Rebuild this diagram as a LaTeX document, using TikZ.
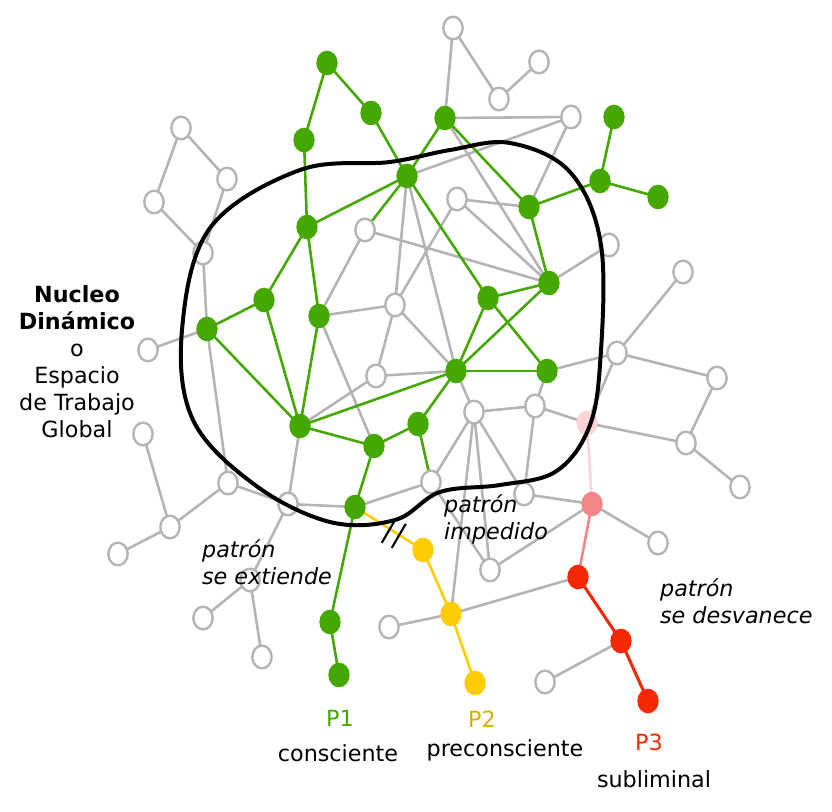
\documentclass[tikz,border=0pt]{standalone}
\usepackage{fontspec}
\setmainfont{DejaVu Sans}
\definecolor{verde}{HTML}{44A800}
\definecolor{gris}{HTML}{B4B4B4}
\definecolor{amarillo}{HTML}{FFCC00}
\definecolor{rojo}{HTML}{F52800}
\definecolor{rosa}{HTML}{F4868A}
\definecolor{rosaclaro}{HTML}{FBD5D5}
\tikzset{
  nodo/.style={ellipse,minimum width=.64cm,minimum height=.74cm,inner sep=0pt},
  gn/.style={nodo,draw=gris,line width=2pt,fill=white,minimum width=.58cm,minimum height=.68cm},
  vn/.style={nodo,fill=verde},
  an/.style={nodo,fill=amarillo},
  gl/.style={gris,line width=2.2pt},
  vl/.style={verde,line width=2.2pt},
  txt/.style={font=\fontsize{19}{23}\selectfont,align=center},
}
\usetikzlibrary{shapes.geometric,calc}
\begin{document}
\begin{tikzpicture}[x=0.03cm,y=-0.03cm]
\useasboundingbox (0,0) rectangle (832,812);
% nodos grises
\foreach \n/\x/\y in {g1/453/28,g2/539/62,g3/499/99,g4/571/117,g5/181/128,g6/227/179,
  g7/154/202,g8/203/253,g9/457/199,g10/365/230,g11/609/245,g12/683/272,g13/395/305,
  g14/148/350,g15/617/353,g16/376/376,g17/717/378,g18/474/412,g19/535/406,g20/143/434,
  g21/686/443,g22/228/483,g23/288/504,g24/431/482,g25/524/494,g26/740/487,g27/170/527,
  g28/118/554,g29/658/543,g30/490/570,g31/250/580,g32/203/618,g33/262/657,g34/389/627,
  g35/545/682}
  \coordinate (\n) at (\x,\y);
% nodos verdes
\foreach \n/\x/\y in {G1/327/63,G2/371/113,G3/304/140,G4/445/118,G5/614/117,G6/407/176,
  G7/600/181,G8/658/197,G9/529/207,G10/307/227,G11/549/283,G12/264/300,G13/488/298,
  G14/319/316,G15/207/329,G16/456/371,G17/547/371,G18/300/426,G19/418/424,G20/374/446,
  G21/355/507,G22/330/622,G23/339/675}
  \coordinate (\n) at (\x,\y);
\coordinate (Y1) at (423,550);
\coordinate (Y2) at (451,614);
\coordinate (Y3) at (475,683);
\coordinate (R0) at (587,423);
\coordinate (R1) at (592,504);
\coordinate (R2) at (578,577);
\coordinate (R3) at (621,641);
\coordinate (R4) at (648,701);
% conexiones grises
\foreach \a/\b in {g1/g3,g1/G4,g3/g2,G4/g4,g4/G6,g4/G9,G4/G11,g5/g7,g5/g6,g7/g8,g6/g8,
  g8/G15,G15/g14,G15/g22,g9/G9,g9/g13,g9/G11,G6/g13,G6/G16,g10/G11,g10/G14,g13/G14,
  g13/g16,g13/G16,g16/G16,g16/G18,G14/G20,G11/g11,G17/g15,G17/g19,g15/g17,g15/R0,
  g15/g12,G16/g18,g18/g19,g19/R0,R0/g21,g21/g17,g21/g26,g19/g25,g18/g24,g18/g30,g18/Y2,
  g18/g25,g24/g30,g25/R1,g30/R1,G21/g23,G21/g24,g23/g22,g23/G18,g23/g31,g22/g27,g27/g20,
  g27/g28,g31/g32,g31/g33,Y2/g34,Y2/R2,R1/g29,R3/g35}
  \draw[gl] (\a) -- (\b);
% conexiones verdes
\foreach \a/\b in {G1/G3,G1/G2,G2/G6,G3/G10,G6/G4,G6/G10,G6/G13,G10/G12,G10/G14,
  G12/G15,G12/G18,G15/G18,G14/G18,G18/G16,G18/G20,G20/G19,G19/G16,G16/G13,G16/G11,
  G16/G17,G13/G11,G13/G17,G4/G9,G9/G7,G7/G5,G7/G8,G9/G11,G20/G21,G21/G22,G22/G23,
  G6/g10,G19/g24}
  \draw[vl] (\a) -- (\b);
\draw[amarillo,line width=2.2pt] (G21) -- (Y1) -- (Y2) -- (Y3);
\draw[rosaclaro,line width=2.2pt] (R0) -- (R1);
\draw[rosa,line width=2.2pt] (R1) -- (R2);
\draw[rojo,line width=2.6pt] (R2) -- (R3) -- (R4);
% marca de bloqueo
\coordinate (mb) at ($(G21)!0.6!(Y1)$);
\draw[line width=1.8pt] ([shift={(0,-14)}]mb) -- ([shift={(-14,10)}]mb)
  ([shift={(10,-9)}]mb) -- ([shift={(-4,15)}]mb);
% nodos
\foreach \n in {g1,g2,g3,g4,g5,g6,g7,g8,g9,g10,g11,g12,g13,g14,g15,g16,g17,g18,g19,g20,
  g21,g22,g23,g24,g25,g26,g27,g28,g29,g30,g31,g32,g33,g34,g35}
  \node[gn] at (\n) {};
\foreach \n in {G1,G2,G3,G4,G5,G6,G7,G8,G9,G10,G11,G12,G13,G14,G15,G16,G17,G18,G19,
  G20,G21,G22,G23}
  \node[vn] at (\n) {};
\foreach \n in {Y1,Y2,Y3} \node[an] at (\n) {};
\node[nodo,fill=rosaclaro] at (R0) {};
\node[nodo,fill=rosa] at (R1) {};
\foreach \n in {R2,R3,R4} \node[nodo,fill=rojo] at (\n) {};
% nucleo
\draw[line width=3.4pt] plot[smooth cycle,tension=0.6] coordinates {
  (182,330) (210,228) (300,170) (390,162) (450,150) (510,143) (570,172) (601,245)
  (600,365) (588,430) (555,472) (500,485) (440,492) (395,520) (330,522) (255,485)
  (193,420)};
% textos
\node[txt] (nucleo) at (77,362) {\textbf{Nucleo}\\\textbf{Dinámico}\\o\\Espacio\\de Trabajo\\Global};
\node[txt,align=left,anchor=west] (extiende) at (198,562) {\itshape patrón\\\itshape se extiende};
\node[txt,align=left,anchor=west] (impedido) at (440,519) {\itshape patrón\\\itshape impedido};
\node[txt,align=left,anchor=west] (desvanece) at (656,601) {\itshape patrón\\\itshape se desvanece};
\node[txt,text=verde] (p1) at (340,718) {P1};
\node[txt] (c1) at (338,753) {consciente};
\node[txt,text=amarillo!85!black] (p2) at (482,719) {P2};
\node[txt] (c2) at (505,750) {preconsciente};
\node[txt,text=rojo] (p3) at (649,742) {P3};
\node[txt] (c3) at (654,779) {subliminal};
\end{tikzpicture}
\end{document}
